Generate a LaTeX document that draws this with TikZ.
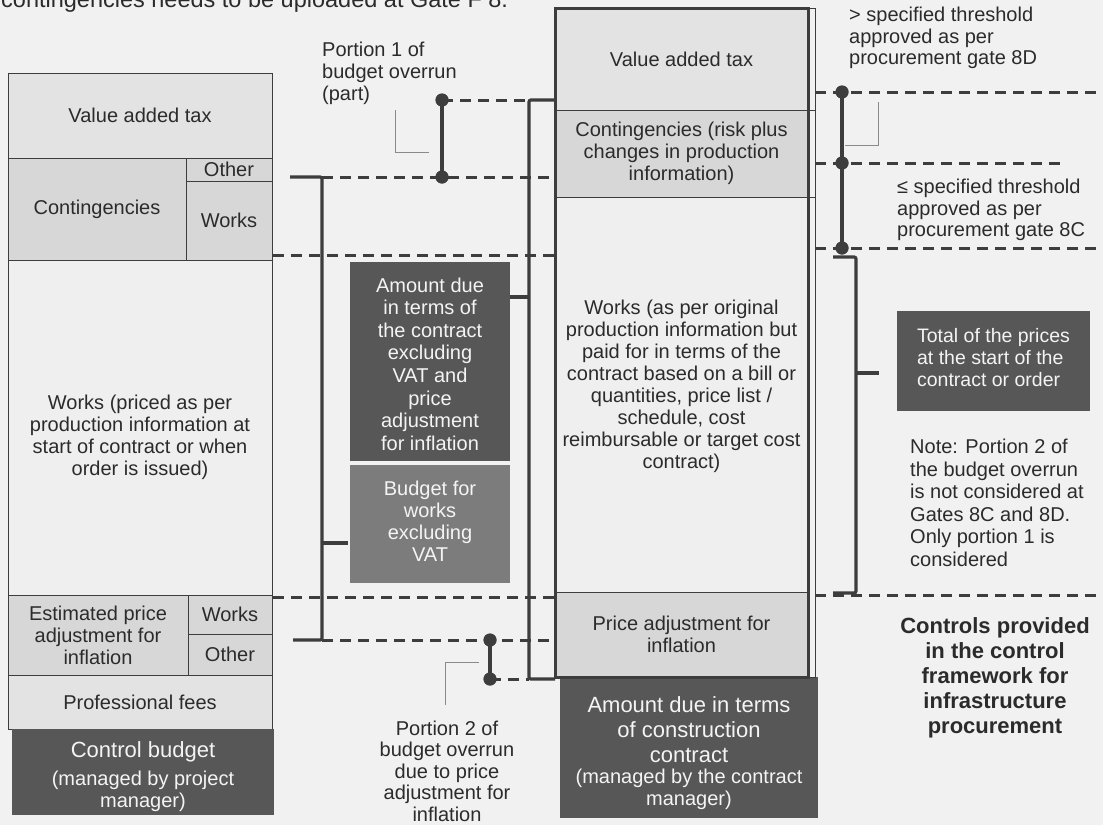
\documentclass[tikz,border=0pt]{standalone}
\usepackage{fontspec}
\setmainfont{Liberation Sans}
\definecolor{bgc}{HTML}{F1F1F1}
\definecolor{lnc}{HTML}{3D3D3D}
\definecolor{txc}{HTML}{2B2B2B}
\definecolor{cla}{HTML}{E3E3E3}
\definecolor{clb}{HTML}{D7D7D7}
\definecolor{clw}{HTML}{EFEFEF}
\definecolor{cdk}{HTML}{575757}
\definecolor{cmd}{HTML}{7C7C7C}
\definecolor{cco}{HTML}{8A8A8A}
\definecolor{wtc}{HTML}{F4F4F4}
\tikzset{
  cell/.style={draw=lnc, line width=1pt, inner sep=0pt, align=center, text=txc, font=\fontsize{20}{22}\selectfont},
  dcell/.style={draw=none, inner sep=0pt},
  txt/.style={inner sep=0pt, text=txc, font=\fontsize{20}{21.5}\selectfont, align=center},
  wtxt/.style={inner sep=0pt, text=wtc, font=\fontsize{20}{22}\selectfont, align=center},
  dashln/.style={draw=lnc, line width=3pt, dash pattern=on 11pt off 7pt},
  bracel/.style={draw=lnc, line width=3.2pt, rounded corners=2pt},
  dotln/.style={draw=lnc, line width=3.2pt},
  dotm/.style={circle, fill=lnc, minimum size=13pt, inner sep=0pt},
  callout/.style={draw=cco, line width=1pt}
}
\begin{document}
\begin{tikzpicture}[x=1pt,y=-1pt]
\fill[bgc] (0,0) rectangle (1103,825);
\useasboundingbox (0,0) rectangle (1103,825);
\begin{scope}
\clip (0,0) rectangle (1103,825);
\node[anchor=base west, inner sep=0pt, text=txc, font=\fontsize{23.5}{26}\selectfont] (hdr) at (1,7) {contingencies needs to be uploaded at Gate F 8.};
\end{scope}

% ---------- left column: control budget ----------
\node[cell, fill=cla, minimum width=264pt, minimum height=85pt] (lvat) at (140,115.5) {Value added tax};
\node[cell, fill=clb, minimum width=178pt, minimum height=102pt] (lcont) at (97,209) {Contingencies};
\node[cell, fill=clb, minimum width=86pt, minimum height=23pt] (lcoth) at (229,169.5) {Other};
\node[cell, fill=clb, minimum width=86pt, minimum height=79pt] (lcwrk) at (229,220.5) {Works};
\node[cell, fill=clw, minimum width=264pt, minimum height=335pt] (lwrk) at (140,427.5) {};
\node[txt, font=\fontsize{20}{22}\selectfont] (lwrkt) at (140,437) {Works (priced as per\\production information at\\start of contract or when\\order is issued)};
\node[cell, fill=clb, minimum width=180pt, minimum height=80pt] (lest) at (98,635) {Estimated price\\adjustment for\\inflation};
\node[cell, fill=clb, minimum width=84pt, minimum height=39pt] (lpwrk) at (230,614.5) {Works};
\node[cell, fill=clb, minimum width=84pt, minimum height=41pt] (lpoth) at (230,654.5) {Other};
\node[cell, fill=cla, minimum width=264pt, minimum height=54pt] (lfee) at (140,702) {Professional fees};
\node[dcell, fill=cdk, minimum width=262pt, minimum height=86pt] (lctl) at (143,772) {};
\node[wtxt, font=\fontsize{22}{24}\selectfont] (lctl1) at (143,752) {Control budget};
\node[wtxt] (lctl2) at (143,791) {(managed by project\\manager)};

% ---------- contract column ----------
\node[cell, fill=cla, minimum width=253pt, minimum height=102pt] (cvat) at (681.5,59) {Value added tax};
\node[cell, fill=clb, minimum width=253pt, minimum height=87pt] (ccon) at (681.5,153.5) {Contingencies (risk plus\\changes in production\\information)};
\node[cell, fill=clw, minimum width=253pt, minimum height=395pt] (cwrk) at (681.5,394.5) {};
\node[txt, font=\fontsize{20}{22}\selectfont] (cwrkt) at (681.5,386) {Works (as per original\\production information but\\paid for in terms of the\\contract based on a bill or\\quantities, price list /\\schedule, cost\\reimbursable or target cost\\contract)};
\node[cell, fill=clb, minimum width=253pt, minimum height=85pt] (cpa) at (681.5,634.5) {Price adjustment for\\inflation};
\node[dcell, fill=cdk, minimum width=258pt, minimum height=141pt] (camt) at (689,747.5) {};
\node[wtxt, font=\fontsize{22}{25}\selectfont] (camt1) at (689,730) {Amount due in terms\\of construction\\contract};
\node[wtxt] (camt2) at (689,789) {(managed by the contract\\manager)};
\coordinate (cfa) at (555,8);
\coordinate (cfb) at (808,677);
\coordinate (cfc) at (815,8);
\coordinate (cfd) at (815,677);
\draw[draw=lnc, line width=1pt] (cfa) -- (cfc) -- (cfd) -- (cfb);
\draw[draw=lnc, line width=1pt] (cvat.south east) -- (cvat.south east -| cfc);
\draw[draw=lnc, line width=1pt] (ccon.south east) -- (ccon.south east -| cfc);
\draw[draw=lnc, line width=3pt] (cfa) rectangle (cfb);

% ---------- middle boxes ----------
\node[dcell, fill=cdk, minimum width=160pt, minimum height=199pt] (mamt) at (430,361.5) {};
\node[wtxt, font=\fontsize{20}{22.6}\selectfont] (mamtt) at (430,364) {Amount due\\in terms of\\the contract\\excluding\\VAT and\\price\\adjustment\\for inflation};
\node[dcell, fill=cmd, minimum width=160pt, minimum height=118pt] (mbud) at (430,524) {};
\node[wtxt] (mbudt) at (430,521) {Budget for\\works\\excluding\\VAT};

% ---------- right box ----------
\node[dcell, fill=cdk, minimum width=193pt, minimum height=100pt] (rtot) at (993.5,361) {};
\node[wtxt, align=left, font=\fontsize{19.5}{22}\selectfont] (rtott) at (993.5,358) {Total of the prices\\at the start of the\\contract or order};

% ---------- coordinates ----------
\coordinate (d1e) at (529,100);
\coordinate (d2s) at (322,177);
\coordinate (d2e) at (550,177);
\coordinate (d3s) at (273,255);
\coordinate (d3e) at (555,255);
\coordinate (d4s) at (273,597);
\coordinate (d4e) at (555,597);
\coordinate (d5s) at (322,640);
\coordinate (d5e) at (553,640);
\coordinate (d6e) at (529,679);
\coordinate (r1s) at (815,92);
\coordinate (r1e) at (1103,92);
\coordinate (r2s) at (815,163);
\coordinate (r2e) at (1067,163);
\coordinate (r3s) at (815,248);
\coordinate (r3e) at (1103,248);
\coordinate (r4s) at (815,595);
\coordinate (r4e) at (1103,595);

\coordinate (bl1) at (290,177);
\coordinate (bl2) at (322,177);
\coordinate (bl3) at (322,640);
\coordinate (bl4) at (293,640);
\coordinate (blm) at (322,543);
\coordinate (blt) at (348,543);
\coordinate (bm1) at (555,100);
\coordinate (bm2) at (529,100);
\coordinate (bm3) at (529,679);
\coordinate (bm4) at (555,679);
\coordinate (bmm) at (529,297);
\coordinate (bmt) at (510,297);
\coordinate (br1) at (833,257);
\coordinate (br2) at (856,257);
\coordinate (br3) at (856,593);
\coordinate (br4) at (833,593);
\coordinate (brm) at (856,373);
\coordinate (brt) at (879,373);

\coordinate (k1a) at (395,110);
\coordinate (k1b) at (395,152);
\coordinate (k1c) at (429,152);
\coordinate (k2a) at (479,662);
\coordinate (k2b) at (445,662);
\coordinate (k2c) at (445,705);
\coordinate (k3a) at (878,102);
\coordinate (k3b) at (878,145);
\coordinate (k3c) at (845,145);

% ---------- dots ----------
\node[dotm] (p1a) at (442,100) {};
\node[dotm] (p1b) at (442,177) {};
\node[dotm] (p2a) at (490,640) {};
\node[dotm] (p2b) at (490,679) {};
\node[dotm] (g1) at (842,92) {};
\node[dotm] (g2) at (842,163) {};
\node[dotm] (g3) at (842,248) {};

% ---------- dashed lines ----------
\draw[dashln] (p1a.center) -- (d1e);
\draw[dashln] (d2s) -- (d2e);
\draw[dashln] (d3s) -- (d3e);
\draw[dashln] (d4s) -- (d4e);
\draw[dashln] (d5s) -- (d5e);
\draw[dashln] (p2b.center) -- (d6e);
\draw[dashln] (r1s) -- (r1e);
\draw[dashln] (r2s) -- (r2e);
\draw[dashln] (r3s) -- (r3e);
\draw[dashln] (r4s) -- (r4e);

% ---------- braces ----------
\draw[bracel] (bl1) -- (bl2) -- (bl3) -- (bl4);
\draw[bracel] (blm) -- (blt);
\draw[bracel] (bm1) -- (bm2) -- (bm3) -- (bm4);
\draw[bracel] (bmm) -- (bmt);
\draw[bracel] (br1) -- (br2) -- (br3) -- (br4);
\draw[bracel] (brm) -- (brt);

% ---------- dot connectors ----------
\draw[dotln] (p1a.center) -- (p1b.center);
\draw[dotln] (p2a.center) -- (p2b.center);
\draw[dotln] (g1.center) -- (g3.center);
\node[dotm] at (p1a.center) {};
\node[dotm] at (p1b.center) {};
\node[dotm] at (p2a.center) {};
\node[dotm] at (p2b.center) {};
\node[dotm] at (g1.center) {};
\node[dotm] at (g2.center) {};
\node[dotm] at (g3.center) {};

% ---------- callouts ----------
\draw[callout] (k1a) -- (k1b) -- (k1c);
\draw[callout] (k2a) -- (k2b) -- (k2c);
\draw[callout] (k3a) -- (k3b) -- (k3c);

% ---------- free texts ----------
\node[txt, align=left, anchor=west, font=\fontsize{20}{22}\selectfont] (p1t) at (322,73) {Portion 1 of\\budget overrun\\(part)};
\node[txt] (p2t) at (447,771) {Portion 2 of\\budget overrun\\due to price\\adjustment for\\inflation};
\node[txt, align=left, anchor=west] (g8d) at (849,38) {> specified threshold\\approved as per\\procurement gate 8D};
\node[txt, align=left, anchor=west] (g8c) at (897,210) {≤ specified threshold\\approved as per\\procurement gate 8C};
\node[txt, align=left, anchor=west, font=\fontsize{20}{22.5}\selectfont] (note) at (910,503) {Note: Portion 2 of\\the budget overrun\\is not considered at\\Gates 8C and 8D.\\Only portion 1 is\\considered};
\node[txt, font={\fontsize{22}{25}\selectfont\bfseries}] (ctrl) at (995,678) {Controls provided\\in the control\\framework for\\infrastructure\\procurement};
\end{tikzpicture}
\end{document}
